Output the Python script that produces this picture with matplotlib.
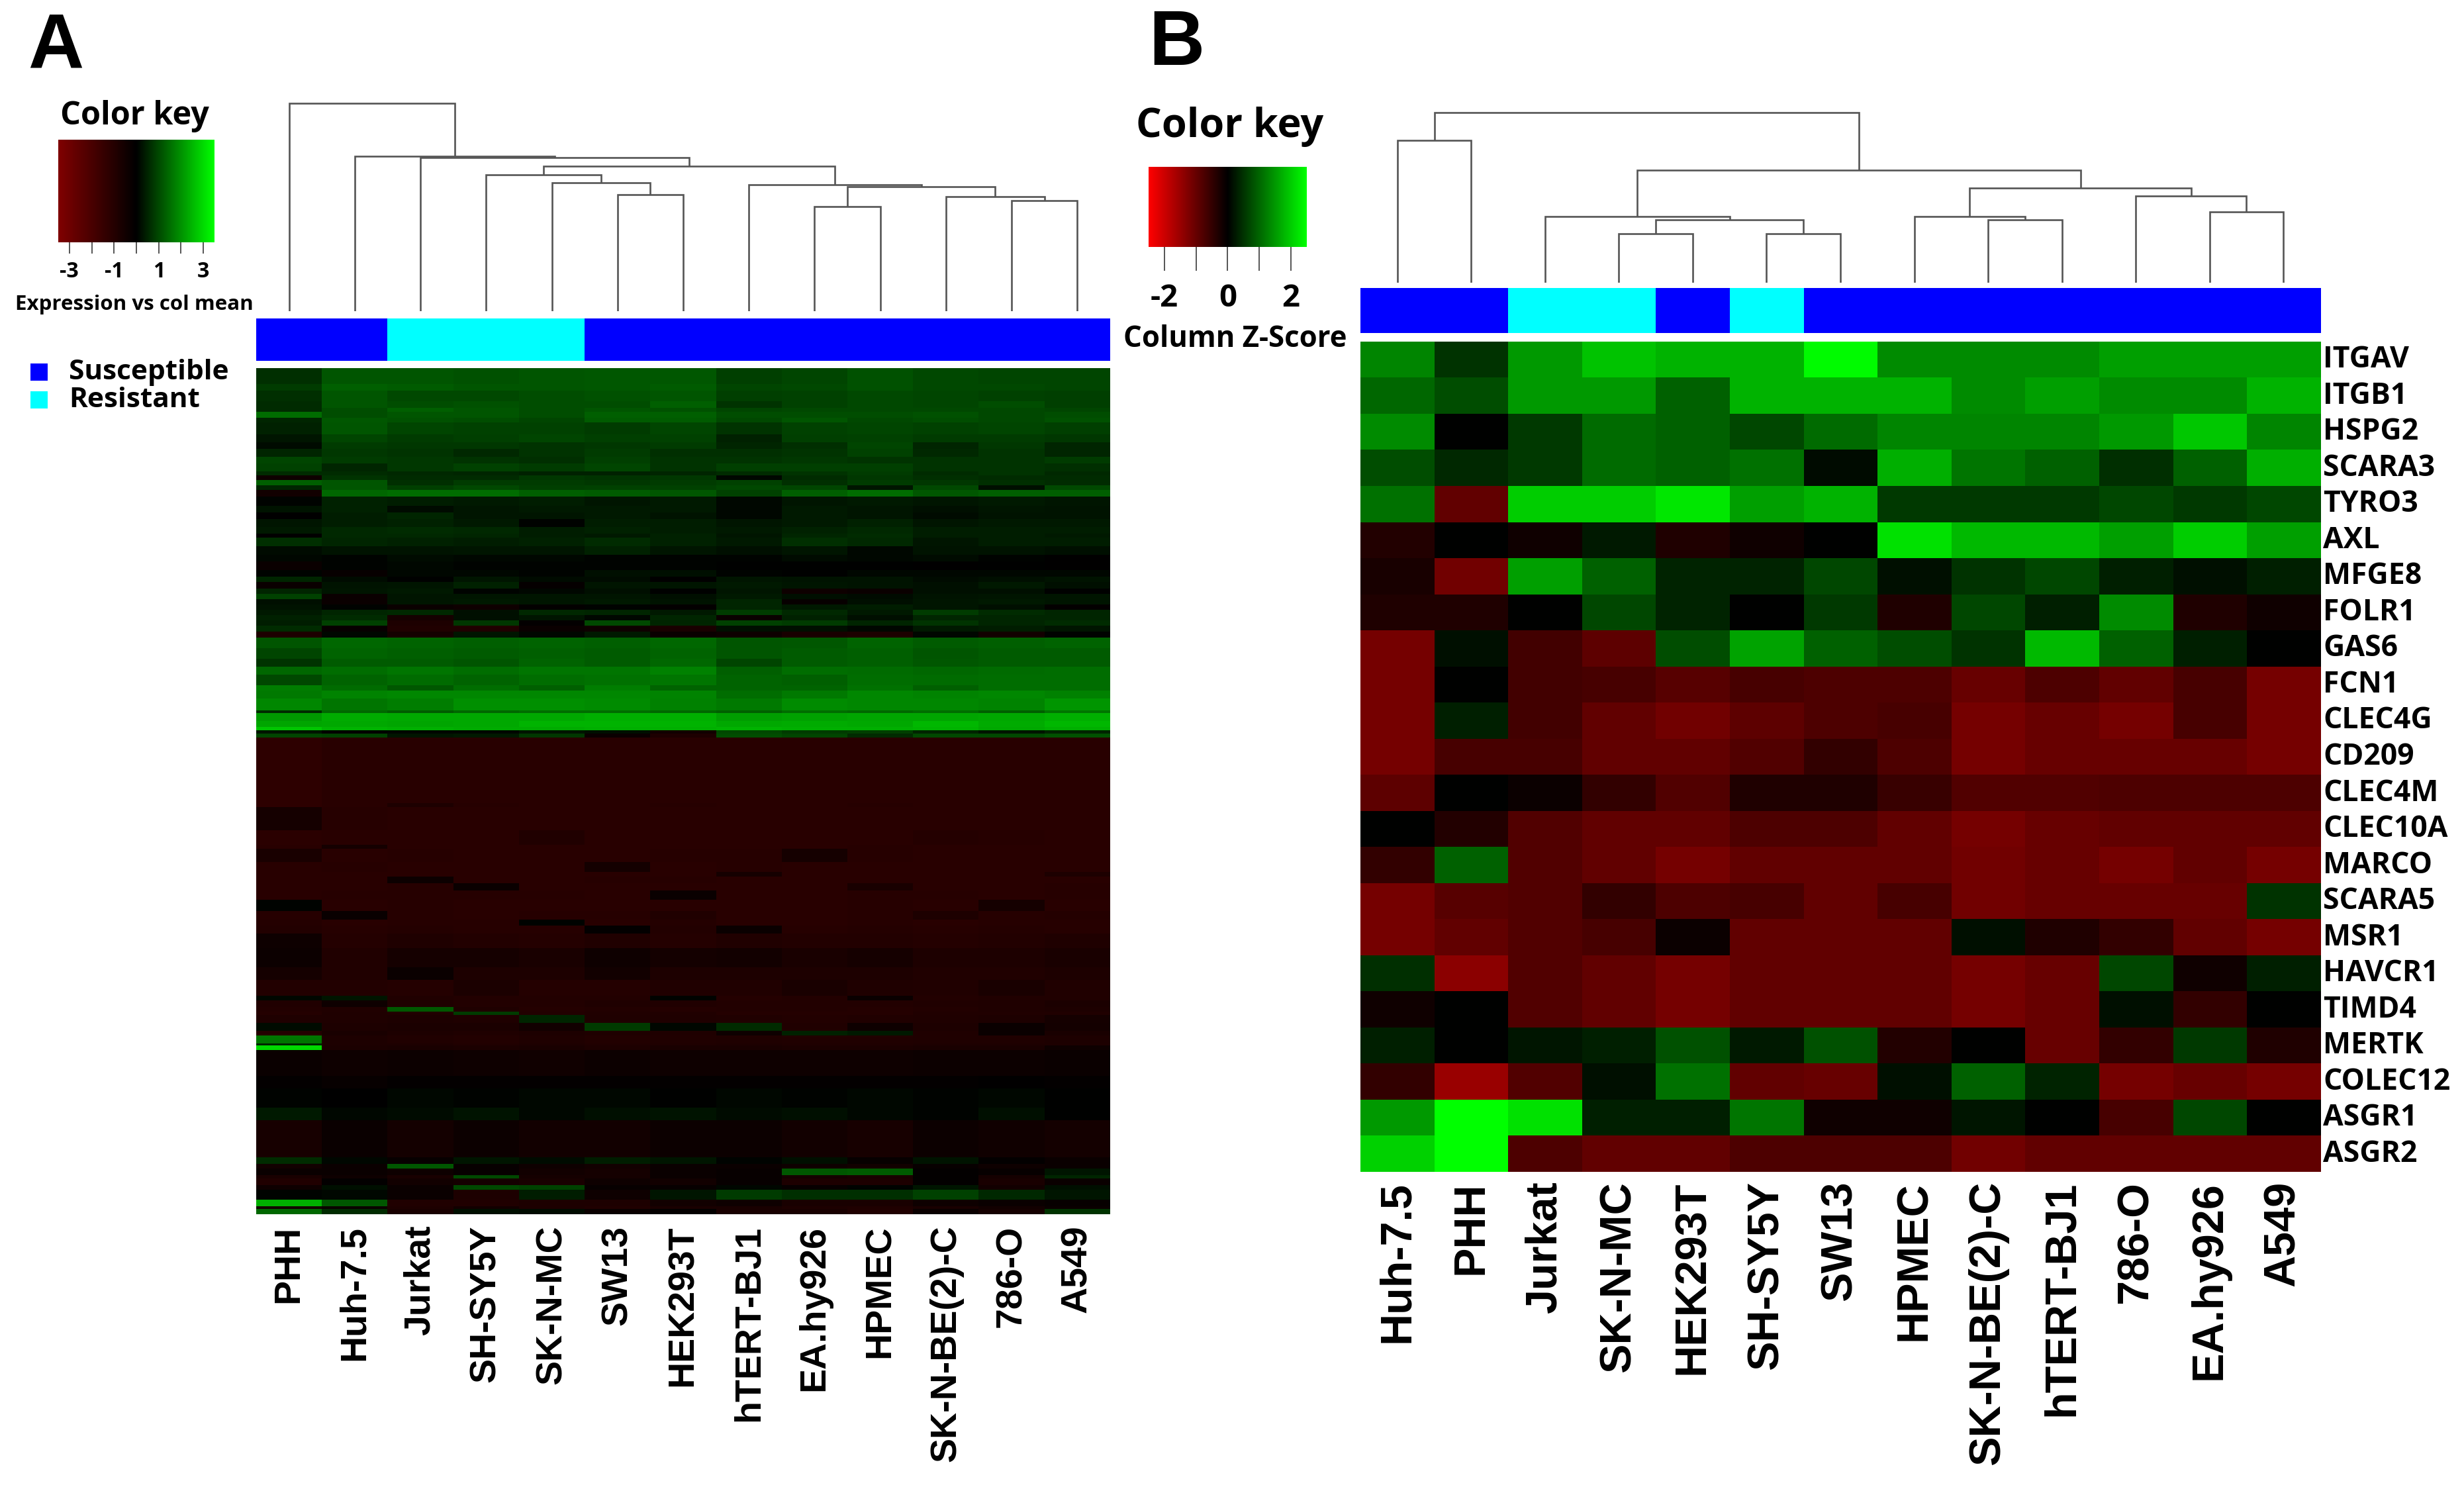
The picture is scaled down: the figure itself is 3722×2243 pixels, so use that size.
import matplotlib

matplotlib.use("Agg")

import matplotlib.pyplot as plt
import numpy as np
from matplotlib.colors import LinearSegmentedColormap, ListedColormap, Normalize
from matplotlib.transforms import ScaledTranslation

WIDTH, HEIGHT = 3723, 2243
DPI = 100

NARROW = "Open Sans"
WIDE = "Liberation Sans"

# panel A
a_columns = ["PHH", "Huh-7.5", "Jurkat", "SH-SY5Y", "SK-N-MC", "SW13", "HEK293T",
             "hTERT-BJ1", "EA.hy926", "HPMEC", "SK-N-BE(2)-C", "786-O", "A549"]
a_groups = [0, 0, 1, 1, 1, 0, 0, 0, 0, 0, 0, 0, 0]
a_merges = [(5, 6, 177), (4, 13, 195), (3, 14, 207), (11, 12, 168), (10, 16, 174),
            (8, 9, 159), (18, 17, 189), (7, 19, 192), (15, 20, 220), (2, 21, 233),
            (1, 22, 235), (0, 23, 316)]
# genes per band, top to bottom, and the band's expression per column
a_counts = [24, 10, 16, 10, 6, 9, 7, 18, 12, 10, 12, 10, 12, 6, 7, 8, 7, 10,
            14, 10, 10, 12, 10, 6, 13, 13, 10, 13, 10, 8, 10, 8, 8, 8, 8, 8, 8, 8, 9, 9,
            16, 16, 12, 12, 16, 8, 12, 18, 4, 12, 9, 5, 5, 6,
            98, 6, 35, 22, 6, 20, 15, 7, 10, 11, 14, 17, 13, 9, 12, 22, 29, 19, 24,
            7, 10, 7, 5, 12, 12, 7, 12, 3, 7, 39, 19, 29, 19, 56, 10, 7, 10, 5, 10, 7,
            15, 10, 4, 8]
a_values = [
    [.65, 1.15, 1.15, 1.1, 1.15, 1.2, 1.2, .85, .95, 1.1, 1.0, .95, .95],
    [.8, 1.3, 1.25, 1.15, 1.15, 1.2, 1.25, .95, 1.0, 1.1, 1.0, 1.0, .95],
    [.65, 1.15, 1.0, 1.0, 1.05, 1.1, 1.15, .85, .9, 1.0, .95, .9, .85],
    [.6, 1.15, 1.05, 1.1, 1.05, 1.05, 1.3, .7, .9, 1.0, .95, 1.05, .85],
    [.6, 1.05, 1.3, 1.15, 1.05, 1.15, 1.1, .95, 1.0, 1.0, 1.0, 1.0, .95],
    [1.5, 1.05, 1.15, 1.15, 1.05, 1.3, 1.3, 1.05, 1.05, 1.05, 1.1, 1.0, 1.05],
    [.5, 1.2, 1.1, 1.05, .95, 1.25, 1.25, 1.0, 1.15, 1.0, 1.05, 1.0, 1.1],
    [.45, 1.15, .95, .9, .9, .8, .95, .7, .9, .95, .9, .95, .85],
    [.3, .95, .8, .85, .95, .85, .9, .45, .85, .9, .8, .8, .75],
    [.15, .8, .75, .75, .7, .75, .8, .5, .65, .95, .5, .75, .5],
    [.5, .75, .7, .55, .7, .8, .65, .65, .7, .9, .55, .7, .5],
    [.95, .8, .75, .7, .65, .85, .7, .7, .75, .7, .7, .7, .8],
    [.9, .5, .75, .9, .8, .95, .7, .85, .85, .85, .7, .7, .65],
    [.6, .6, .55, .5, .45, .45, .5, .6, .7, .8, .6, .7, .55],
    [-.4, .7, .6, .6, .75, .7, .75, .1, .6, .75, .65, .6, .6],
    [1.3, 1.15, .65, .8, .8, .75, .8, .9, .65, .8, .75, .65, .6],
    [.5, 1.15, .85, 1.0, .85, .9, .9, 1.0, .95, .3, 1.0, .2, 1.0],
    [-.5, 1.4, 1.5, 1.5, 1.3, 1.25, 1.2, .9, 1.3, 1.5, 1.2, 1.3, 1.3],
    [.05, .45, .4, .35, .4, .3, .35, .1, .3, .35, .3, .35, .3],
    [.25, .45, .15, .3, .35, .35, .35, .1, .35, .3, .2, .3, .25],
    [-.05, .4, .5, .3, .3, .35, .25, .1, .35, .3, .15, .25, .25],
    [.3, .4, .45, .35, .05, .4, .4, .3, .35, .45, .3, .35, .35],
    [.35, .55, .6, .55, .4, .45, .4, .35, .45, .55, .4, .4, .4],
    [-.05, .55, .55, .5, .4, .35, .45, .3, .5, .6, .4, .4, .35],
    [.65, .5, .45, .4, .45, .6, .45, .35, .65, .55, .3, .4, .4],
    [.15, .25, .25, .3, .3, .45, .3, .2, .3, .1, .25, .25, .2],
    [.1, .05, .15, .1, .1, .05, .05, .05, .15, .1, .15, .05, -.05],
    [-.3, .05, .1, .05, .05, .05, .05, 0, 0, 0, -.05, 0, -.05],
    [.05, -.2, .1, .1, .05, .2, .2, .05, 0, .1, .1, .1, .1],
    [.5, .15, 0, .3, .15, .15, -.05, .3, .25, .25, .15, .2, .25],
    [-.3, .25, .3, .45, -.15, .3, .3, .35, .3, .25, .2, .35, .2],
    [.5, .3, .35, .05, .1, .2, 0, .3, -.4, -.3, .2, .2, 0],
    [.9, -.3, .3, .3, .3, .3, .2, .35, .2, .15, .25, .3, .3],
    [.2, -.3, .3, .35, .3, .35, .25, .5, -.2, .2, .3, .35, .3],
    [.25, .05, -.3, -.4, -.1, .05, -.1, .5, .35, .4, .3, .2, -.1],
    [.35, .5, .55, .2, .55, .5, .35, .8, .55, .35, .8, .6, .5],
    [.45, .6, -.6, .2, .3, .1, .5, -.3, .45, .2, .5, .5, .5],
    [.4, .9, -.8, .75, -.1, 1.0, .5, .9, .8, .5, .7, .5, .6],
    [.6, -.2, -.9, -.9, -.3, -.4, -.7, .2, .2, .1, .35, .4, .3],
    [-.8, .1, -.6, .3, .1, .35, -.3, -.4, -.7, -.8, .1, -.5, .05],
    [1.15, 1.4, 1.35, 1.3, 1.35, 1.3, 1.4, 1.15, 1.2, 1.35, 1.25, 1.3, 1.35],
    [.95, 1.35, 1.3, 1.25, 1.3, 1.25, 1.35, 1.15, 1.25, 1.3, 1.15, 1.25, 1.25],
    [.7, 1.25, 1.25, 1.15, 1.35, 1.25, 1.4, .95, 1.25, 1.3, 1.2, 1.25, 1.25],
    [1.4, 1.5, 1.6, 1.5, 1.6, 1.6, 1.75, 1.3, 1.5, 1.45, 1.4, 1.45, 1.5],
    [1.0, 1.35, 1.45, 1.35, 1.5, 1.55, 1.6, 1.35, 1.3, 1.5, 1.45, 1.5, 1.5],
    [1.7, 1.45, 1.2, 1.5, 1.3, 1.7, 1.35, 1.35, 1.35, 1.55, 1.3, 1.5, 1.5],
    [1.65, 1.8, 1.85, 1.85, 1.85, 1.85, 1.8, 1.5, 1.65, 1.85, 1.8, 1.85, 1.75],
    [1.85, 1.6, 1.7, 1.95, 1.95, 1.9, 1.75, 1.65, 1.9, 1.85, 1.85, 1.8, 2.05],
    [.6, 1.4, 1.25, 1.4, 1.5, 1.5, 1.4, 1.3, 1.5, 1.4, 1.5, 1.3, 1.6],
    [2.1, 2.35, 2.3, 2.3, 2.3, 2.4, 2.4, 2.15, 2.2, 2.25, 2.25, 2.3, 2.4],
    [2.25, 2.3, 2.25, 2.3, 2.45, 2.45, 2.45, 2.3, 2.35, 2.3, 2.5, 2.35, 2.5],
    [2.7, 2.45, 2.4, 2.35, 2.35, 2.4, 2.4, 2.45, 2.4, 2.4, 2.45, 2.3, 2.4],
    [.3, -.05, .1, .1, .3, .2, -.5, 1.0, .8, .85, .5, .3, .5],
    [.95, .9, .3, .35, .75, -.3, -.8, 1.05, .95, .6, 1.0, 1.0, 1.1],
    [-1.25, -1.1, -1.1, -1.1, -1.1, -1.1, -1.1, -1.1, -1.1, -1.1, -1.1, -1.1, -1.1],
    [-1.25, -1.1, -.8, -1.05, -1.1, -1.1, -1.05, -1.1, -1.1, -1.05, -1.1, -1.1, -1.1],
    [-.6, -1.05, -1.1, -1.1, -1.1, -1.1, -1.1, -1.1, -1.1, -1.1, -1.1, -1.1, -1.1],
    [-1.15, -1.1, -1.1, -1.1, -.9, -1.1, -1.1, -1.1, -1.1, -1.1, -1.0, -1.05, -1.1],
    [-1.1, -.6, -1.1, -1.1, -1.1, -1.1, -1.1, -1.1, -1.1, -1.05, -1.1, -1.1, -1.1],
    [-.7, -1.1, -1.05, -1.1, -1.1, -1.1, -1.05, -1.05, -.6, -1.05, -1.1, -1.1, -1.1],
    [-1.1, -1.05, -1.1, -1.1, -1.1, -.55, -1.1, -1.05, -1.1, -1.1, -1.1, -1.1, -1.1],
    [-1.1, -1.1, -1.1, -1.1, -1.1, -1.1, -1.1, -.6, -1.1, -1.1, -1.1, -1.1, -.8],
    [-1.1, -1.1, -.35, -1.1, -1.1, -1.05, -1.05, -1.1, -1.1, -1.1, -1.1, -1.1, -1.1],
    [-1.1, -1.1, -1.05, -.3, -1.1, -1.1, -1.1, -1.1, -1.1, -.7, -1.1, -1.1, -1.05],
    [-1.1, -1.05, -1.05, -1.05, -1.05, -1.1, -.3, -1.1, -1.1, -1.05, -1.05, -1.1, -1.05],
    [.05, -1.1, -1.05, -1.1, -1.1, -1.1, -1.1, -1.1, -1.1, -1.05, -1.1, -.6, -1.1],
    [-1.05, -.25, -1.05, -1.1, -1.05, -1.05, -.9, -1.1, -1.1, -1.05, -.8, -1.05, -1.0],
    [-1.0, -1.1, -1.05, -1.05, .05, -1.1, -1.0, -1.1, -1.1, -1.05, -1.1, -1.05, -1.05],
    [-.95, -1.05, -1.0, -1.05, -1.05, -.1, -.95, -.3, -1.05, -1.0, -1.05, -1.0, -1.05],
    [-.4, -1.0, -.85, -.95, -1.0, -.9, -1.0, -.9, -.95, -.95, -1.0, -.95, -.85],
    [-.35, -.9, -.6, -.6, -.7, -.4, -.55, -.5, -.7, -.6, -.8, -.8, -.7],
    [-.6, -.9, -.3, -.8, -.8, -.5, -.8, -.8, -.8, -.8, -.9, -.9, -.8],
    [-.95, -.95, -1.0, -.75, -1.0, -1.0, -.9, -.9, -.7, -.85, -.9, -.7, -.9],
    [.1, .3, -.9, -.95, -.95, -.95, .05, -1.0, -.95, -.3, -.95, -.9, -.9],
    [-.9, -.4, -.85, -.95, -.95, -.85, -.9, -.95, -.95, -.95, -.9, -.85, -.75],
    [-.95, -.9, 1.2, -.85, -1.0, -.95, -1.0, -.95, -.95, -1.0, -.95, -.85, -.8],
    [-1.0, -.85, -.9, .8, -.95, -.9, -.9, -1.0, -1.0, -1.0, -.9, -.9, -.9],
    [-.85, -.85, -.8, -.85, .5, -.85, -.85, -.9, -.95, -.9, -.85, -.8, -.6],
    [.15, -.8, -.75, -.75, -.5, .8, .1, .6, -.9, -.4, -.8, -.3, -.55],
    [-1.0, -.7, -.8, -.85, -.8, -.85, -.85, -.4, .45, .35, -.85, -.3, -.7],
    [1.6, -.8, -.9, -.95, -.85, -.95, -.9, -.85, -.9, -.9, -.85, -.85, -.8],
    [.5, -.8, -.8, -.9, -.8, -.9, -.85, -.8, -.85, -.85, -.8, -.8, -.8],
    [3.0, -.75, -.7, -.75, -.7, -.8, -.7, -.7, -.75, -.75, -.7, -.7, -.4],
    [-.3, -.4, -.35, -.4, -.45, -.35, -.4, -.4, -.4, -.4, -.35, -.35, -.3],
    [-.1, -.2, -.1, -.1, -.1, -.1, -.1, -.1, -.1, -.1, -.1, -.05, -.1],
    [.05, -.02, .1, .05, .1, .1, .02, .1, .05, .1, .05, .1, 0],
    [.35, .1, .15, .25, .1, .2, .25, .15, .2, .1, .05, .2, 0],
    [-.65, -.3, -.55, -.35, -.5, -.5, -.35, -.35, -.5, -.65, -.35, -.45, -.55],
    [.6, .1, -.2, .3, .15, .4, .3, .05, .2, -.2, .25, -.1, -.3],
    [-.5, -.3, 1.2, -.2, -.4, -.5, -.3, -.3, -.4, -.5, -.2, -.4, -.3],
    [-.3, -.3, -.4, -.2, -.5, -.6, -.3, -.2, 1.2, 1.25, -.1, -.2, .3],
    [-.7, -.4, -.7, 1.0, -.6, -.6, -.3, -.2, -.6, -.7, -.1, -.6, .5],
    [-.9, -.1, -.5, -.6, -.7, -.4, -.5, -.2, -.8, -.8, -.1, -.7, -.3],
    [-.4, .2, -.3, 1.0, .9, -.2, -.2, .1, -.2, .05, .3, -.5, .2],
    [.05, .1, -.3, -.8, .4, -.4, .3, .8, .65, .65, .9, .55, .3],
    [2.4, 1.2, -.9, -.9, -.8, -.8, -.5, -.4, -.7, -.7, -.4, -.3, -.2],
    [-.5, -.3, -.8, -.5, -.8, -.9, -.7, -.7, -.8, -.85, -.7, -.5, -.3],
    [1.4, .6, -.7, .2, .15, -.3, -.1, -.7, -.7, -.9, -.3, -.6, .7],
]

# panel B
b_columns = ["Huh-7.5", "PHH", "Jurkat", "SK-N-MC", "HEK293T", "SH-SY5Y", "SW13",
             "HPMEC", "SK-N-BE(2)-C", "hTERT-BJ1", "786-O", "EA.hy926", "A549"]
b_groups = [0, 0, 1, 1, 0, 1, 0, 0, 0, 0, 0, 0, 0]
b_merges = [(0, 1, 216), (3, 4, 74.5), (5, 6, 74.5), (14, 15, 95.5), (2, 16, 101),
            (8, 9, 95.5), (7, 18, 101), (11, 12, 107.6), (10, 20, 132), (19, 21, 144),
            (17, 22, 170.5), (13, 23, 258)]
b_genes = ["ITGAV", "ITGB1", "HSPG2", "SCARA3", "TYRO3", "AXL", "MFGE8", "FOLR1", "GAS6",
           "FCN1", "CLEC4G", "CD209", "CLEC4M", "CLEC10A", "MARCO", "SCARA5", "MSR1",
           "HAVCR1", "TIMD4", "MERTK", "COLEC12", "ASGR1", "ASGR2"]
b_values = [
    [1.3, .5, 1.5, 1.9, 1.75, 1.75, 2.45, 1.35, 1.35, 1.35, 1.55, 1.55, 1.55],
    [1.0, .75, 1.5, 1.5, .95, 1.75, 1.75, 1.75, 1.35, 1.55, 1.35, 1.35, 1.75],
    [1.35, 0, .55, 1.05, .95, .7, 1.05, 1.3, 1.3, 1.3, 1.5, 1.95, 1.3],
    [.75, .4, .55, 1.05, .95, 1.1, .1, 1.7, 1.15, .95, .45, .95, 1.7],
    [1.1, -.95, 2.0, 2.0, 2.25, 1.55, 1.75, .55, .55, .55, .7, .55, .7],
    [-.35, 0, -.15, .25, -.3, -.15, 0, 2.2, 1.8, 1.8, 1.55, 2.0, 1.55],
    [-.25, -1.1, 1.55, .95, .35, .35, .7, .15, .5, .7, .3, .15, .3],
    [-.3, -.3, 0, .7, .35, 0, .55, -.3, .7, .3, 1.35, -.3, -.15],
    [-1.15, .15, -.65, -.9, .75, 1.6, .95, .75, .5, 1.8, .95, .3, 0],
    [-1.15, 0, -.65, -.7, -.85, -.7, -.75, -.75, -1.0, -.75, -.95, -.7, -1.15],
    [-1.15, .3, -.65, -.95, -1.1, -.9, -.75, -.7, -1.15, -1.0, -1.15, -.7, -1.15],
    [-1.15, -.7, -.7, -.95, -.95, -.8, -.5, -.75, -1.15, -1.0, -1.0, -1.0, -1.15],
    [-.9, 0, -.1, -.5, -.8, -.3, -.3, -.55, -.8, -.8, -.75, -.75, -.75],
    [0, -.35, -.8, -.95, -.95, -.75, -.75, -.95, -1.15, -1.0, -.95, -.95, -.95],
    [-.5, .95, -.8, -.95, -1.15, -.95, -.95, -.95, -1.1, -1.0, -1.15, -.95, -1.15],
    [-1.15, -.85, -.8, -.5, -.75, -.7, -.95, -.7, -1.1, -1.0, -1.0, -1.0, .5],
    [-1.15, -.95, -.8, -.7, -.1, -.95, -.95, -.95, .15, -.3, -.5, -.95, -1.15],
    [.45, -1.35, -.8, -.95, -1.15, -.95, -.95, -.95, -1.15, -1.0, .7, -.15, .3],
    [-.15, 0, -.8, -.95, -1.15, -.95, -.95, -.95, -1.15, -1.0, .15, -.5, 0],
    [.3, 0, .2, .3, .8, .25, .8, -.35, 0, -1.0, -.5, .55, -.3],
    [-.5, -1.5, -.8, .15, 1.1, -.95, -1.0, .15, .95, .35, -1.15, -1.0, -1.15],
    [1.5, 2.5, 2.2, .3, .3, 1.15, -.15, -.15, .2, 0, -.7, .7, 0],
    [2.05, 2.5, -.75, -.95, -.95, -.75, -.75, -.75, -1.1, -.95, -.95, -.95, -.95],
]

BLUE = "#0000ff"
CYAN = "#00ffff"
LINE = "#555555"

cmap_a = LinearSegmentedColormap.from_list("key_a", ["#800000", "#000000", "#00ff00"], N=256)
cmap_b = LinearSegmentedColormap.from_list("key_b", ["#ff0000", "#000000", "#00ff00"], N=256)
norm_a = Normalize(-3.5, 3.5)
norm_b = Normalize(-2.5, 2.5)


def px_axes(fig, left, top, right, bottom):
    return fig.add_axes([left / WIDTH, 1 - bottom / HEIGHT,
                         (right - left) / WIDTH, (bottom - top) / HEIGHT])


def put_text(fig, x, y, text, **kwargs):
    kwargs.setdefault("color", "black")
    kwargs.setdefault("fontweight", "bold")
    kwargs.setdefault("family", NARROW)
    fig.text(x / WIDTH, 1 - y / HEIGHT, text, **kwargs)


def draw_tree(ax, merges, count):
    pos = {i: (float(i), 0.0) for i in range(count)}
    for offset, (left, right, height) in enumerate(merges):
        lx, ly = pos[left]
        rx, ry = pos[right]
        ax.plot([lx, lx, rx, rx], [ly, height, height, ry], color=LINE, lw=1.9,
                solid_joinstyle="miter", solid_capstyle="butt")
        pos[count + offset] = ((lx + rx) / 2, height)
    ax.set_xlim(-0.5, count - 0.5)
    ax.set_ylim(0, max(m[2] for m in merges) * 1.005)
    ax.axis("off")


def draw_groups(ax, groups):
    ax.imshow([groups], aspect="auto", cmap=ListedColormap([BLUE, CYAN]),
              vmin=0, vmax=1, interpolation="nearest")
    ax.axis("off")


def draw_key(ax, cmap, norm, ticks, tick_labels, tick_pad, fontsize):
    gradient = np.linspace(norm.vmin, norm.vmax, 256)[None, :]
    ax.imshow(gradient, aspect="auto", cmap=cmap, norm=norm,
              extent=[norm.vmin, norm.vmax, 0, 1])
    ax.set_yticks([])
    ax.set_xticks(ticks)
    ax.set_xticklabels(tick_labels, fontsize=fontsize, fontweight="bold", family=NARROW)
    ax.tick_params(axis="x", length=tick_pad[0], width=1.4, color=LINE, pad=tick_pad[1])
    for spine in ax.spines.values():
        spine.set_visible(False)


fig = plt.figure(figsize=(WIDTH / DPI, HEIGHT / DPI), dpi=DPI, facecolor="white")

# A
put_text(fig, 42, 72, "A", fontsize=84, family=WIDE, va="center", ha="left")
put_text(fig, 203, 176, "Color key", fontsize=35, va="center", ha="center")
key_a = px_axes(fig, 88, 211, 324, 366)
draw_key(key_a, cmap_a, norm_a, [-3, -2, -1, 0, 1, 2, 3],
         ["-3", "", "-1", "", "1", "", "3"], (12, 8), 23)
put_text(fig, 203, 460, "Expression vs col mean", fontsize=22.5, va="center", ha="center")

tree_a = px_axes(fig, 387, 154, 1677, 470)
draw_tree(tree_a, a_merges, len(a_columns))
bar_a = px_axes(fig, 387, 481, 1677, 545)
draw_groups(bar_a, a_groups)

legend_a = px_axes(fig, 40, 540, 380, 625)
legend_a.axis("off")
legend_a.set_xlim(40, 380)
legend_a.set_ylim(625, 540)
for y, color, label in [(562, BLUE, "Susceptible"), (604, CYAN, "Resistant")]:
    legend_a.plot([59], [y], marker="s", ms=19, color=color, mew=0)
    legend_a.text(104, y, label, fontsize=30.5, fontweight="bold", family=NARROW, va="center")

heat_a = px_axes(fig, 387, 556, 1677, 1834)
heat_a.imshow(np.repeat(np.array(a_values), a_counts, axis=0), aspect="auto", cmap=cmap_a,
              norm=norm_a, interpolation="nearest")
heat_a.set_yticks([])
heat_a.set_xticks(range(len(a_columns)))
heat_a.set_xticklabels(a_columns, rotation=90, fontsize=40, fontweight="bold", family=WIDE)
heat_a.tick_params(axis="x", length=0, pad=12)
for spine in heat_a.spines.values():
    spine.set_visible(False)

# B
put_text(fig, 1735, 68, "B", fontsize=84, family=WIDE, va="center", ha="left")
put_text(fig, 1858, 192, "Color key", fontsize=44, va="center", ha="center")
key_b = px_axes(fig, 1735, 252, 1974, 373)
draw_key(key_b, cmap_b, norm_b, [-2, -1, 0, 1, 2], ["-2", "", "0", "", "2"], (26, 13), 34)
put_text(fig, 1866, 513, "Column Z-Score", fontsize=31.5, va="center", ha="center")

tree_b = px_axes(fig, 2055, 169, 3505, 427)
draw_tree(tree_b, b_merges, len(b_columns))
bar_b = px_axes(fig, 2055, 435, 3505, 503)
draw_groups(bar_b, b_groups)

heat_b = px_axes(fig, 2055, 516, 3505, 1770)
heat_b.imshow(np.array(b_values), aspect="auto", cmap=cmap_b, norm=norm_b,
              interpolation="nearest")
heat_b.set_xticks(range(len(b_columns)))
heat_b.set_xticklabels(b_columns, rotation=90, fontsize=48, fontweight="bold", family=WIDE)
heat_b.yaxis.tick_right()
heat_b.set_yticks(range(len(b_genes)))
heat_b.set_yticklabels(b_genes, fontsize=32, fontweight="bold", family=NARROW)
heat_b.tick_params(axis="x", length=0, pad=10)
heat_b.tick_params(axis="y", length=0, pad=3)
for label in heat_b.get_yticklabels():
    label.set_transform(label.get_transform() + ScaledTranslation(0, 5 / DPI, fig.dpi_scale_trans))
for spine in heat_b.spines.values():
    spine.set_visible(False)

fig.savefig("out.png", dpi=DPI)
